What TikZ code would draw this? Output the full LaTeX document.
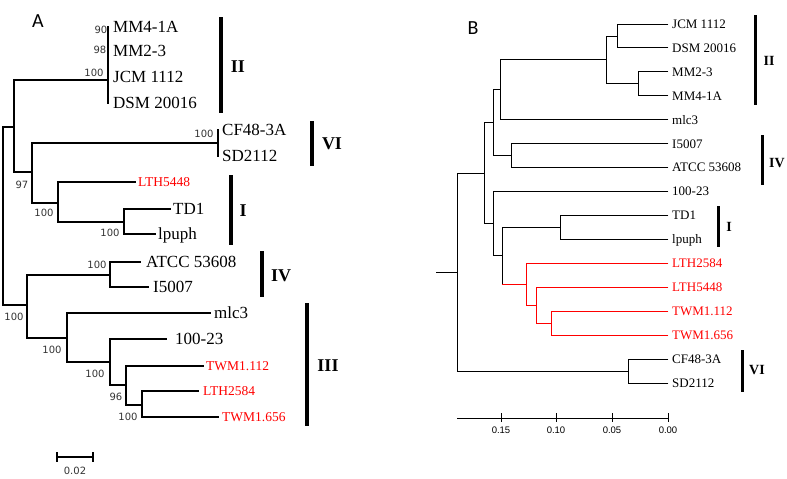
\documentclass[tikz,border=0pt]{standalone}
\usepackage{fontspec}
\setmainfont{Liberation Serif}
\newfontfamily\djv{DejaVu Sans}
\newfontfamily\lsans{Liberation Sans}
\newfontfamily\carl{Carlito}
\newcommand\tbr[4]{\draw[#1] (#2|-#3) -- (#3) (#2|-#4) -- (#4) (#2|-#3) -- (#2|-#4);}
\begin{document}
\begin{tikzpicture}[x=1pt,y=-1pt,
  tr/.style={line width=1.3pt,line cap=rect},
  trb/.style={line width=0.95pt,line cap=rect},
  clA/.style={line width=3.5pt},
  clB/.style={line width=3pt},
  lblA/.style={anchor=west,inner sep=0pt,font=\fontsize{17}{17}\selectfont,text height=11.3pt,text depth=0pt},
  rlblA/.style={anchor=west,inner sep=0pt,font=\fontsize{13.5}{13.5}\selectfont,text height=9pt,text depth=0pt,text=red},
  lblB/.style={anchor=west,inner sep=0pt,font=\fontsize{13}{13}\selectfont,text height=8.6pt,text depth=0pt},
  rlblB/.style={lblB,text=red},
  bs/.style={inner sep=0pt,font=\djv\fontsize{10}{10}\selectfont,text height=7.3pt,text depth=0pt,text=black!80},
  cladeA/.style={inner sep=0pt,font=\bfseries\fontsize{18}{18}\selectfont,text height=12pt,text depth=0pt},
  cladeB/.style={inner sep=0pt,font=\bfseries\fontsize{14}{14}\selectfont,text height=9.3pt,text depth=0pt},
  panel/.style={inner sep=0pt,font=\carl\fontsize{20}{20}\selectfont,text height=13pt,text depth=0pt},
  axl/.style={inner sep=0pt,font=\lsans\fontsize{9.5}{9.5}\selectfont,text height=6.8pt,text depth=0pt}]
\useasboundingbox (0,0) rectangle (787,479);
% ================= Panel A =================
\node[panel] (pA) at (38,21) {A};
% leaves
\coordinate (tMM4) at (108,27);  \node[lblA] (MM4) at (113,27) {MM4-1A};
\coordinate (tMM2) at (108,51);  \node[lblA] (MM2) at (113,51) {MM2-3};
\coordinate (tJCM) at (108,77);  \node[lblA] (JCM) at (113,77) {JCM 1112};
\coordinate (tDSM) at (108,103); \node[lblA] (DSM) at (113,103) {DSM 20016};
\coordinate (tCF) at (218,130);  \node[lblA] (CF) at (222,130) {CF48-3A};
\coordinate (tSD) at (218,156);  \node[lblA] (SD) at (222,156) {SD2112};
\coordinate (tL5448) at (135,182); \node[rlblA] (L5448) at (138,182) {LTH5448};
\coordinate (tTD) at (170,209);  \node[lblA] (TD) at (173,209) {TD1};
\coordinate (tlp) at (155,234);  \node[lblA] (lp) at (158,234) {lpuph};
\coordinate (tATCC) at (140,262); \node[lblA] (ATCC) at (146,262) {ATCC 53608};
\coordinate (tI5007) at (148,287); \node[lblA] (I5007) at (153,287) {I5007};
\coordinate (tmlc) at (210,313); \node[lblA] (mlc) at (214,313) {mlc3};
\coordinate (t10023) at (166,339); \node[lblA] (n10023) at (175,339) {100-23};
\coordinate (tT112) at (203,366); \node[rlblA] (T112) at (206,366) {TWM1.112};
\coordinate (tL2584) at (198,391); \node[rlblA] (L2584) at (203,391) {LTH2584};
\coordinate (tT656) at (218,417); \node[rlblA] (T656) at (222,417) {TWM1.656};
% internal nodes
\coordinate (aII) at (108,80);
\coordinate (aVI) at (218,143);
\coordinate (aTD) at (124,222);
\coordinate (aI) at (58,203);
\coordinate (aVII) at (32,172);
\coordinate (a14) at (14,127);
\coordinate (aL) at (142,405);
\coordinate (aT) at (126,385);
\coordinate (a10) at (110,362);
\coordinate (aIII) at (67,338);
\coordinate (aIV) at (110,275);
\coordinate (aIVIII) at (27,305);
\coordinate (aRoot) at (3,216);
% branches
\draw[tr] (tMM4) -- (tDSM);
\draw[tr] (tCF) -- (tSD);
\tbr{tr}{aTD}{tTD}{tlp}
\tbr{tr}{aI}{tL5448}{aTD}
\tbr{tr}{aVII}{aVI}{aI}
\tbr{tr}{a14}{aII}{aVII}
\tbr{tr}{aL}{tL2584}{tT656}
\tbr{tr}{aT}{tT112}{aL}
\tbr{tr}{a10}{t10023}{aT}
\tbr{tr}{aIII}{tmlc}{a10}
\tbr{tr}{aIV}{tATCC}{tI5007}
\tbr{tr}{aIVIII}{aIV}{aIII}
\tbr{tr}{aRoot}{a14}{aIVIII}
% bootstrap values
\node[bs] (b1) at (101,30) {90};
\node[bs] (b2) at (100,50) {98};
\node[bs] (b3) at (94,73) {100};
\node[bs] (b4) at (204,134) {100};
\node[bs] (b5) at (22,185) {97};
\node[bs] (b6) at (44,213) {100};
\node[bs] (b7) at (110,233) {100};
\node[bs] (b8) at (97,265) {100};
\node[bs] (b9) at (14,317) {100};
\node[bs] (b10) at (52,350) {100};
\node[bs] (b11) at (95,374) {100};
\node[bs] (b12) at (116,397) {96};
\node[bs] (b13) at (128,417) {100};
% clade bars
\draw[clA] (221,17) -- (221,113);  \node[cladeA] (cII) at (238,66) {II};
\draw[clA] (312,121) -- (312,166); \node[cladeA] (cVI) at (332,143) {VI};
\draw[clA] (231,175) -- (231,245); \node[cladeA] (cI) at (243,210) {I};
\draw[clA] (262,251) -- (262,297); \node[cladeA] (cIV) at (281,275) {IV};
\draw[clA] (307,303) -- (307,426); \node[cladeA] (cIII) at (328,365) {III};
% scale bar
\coordinate (s1) at (57,457); \coordinate (s2) at (93,457);
\draw[line width=1.2pt] (s1) -- (s2) (57,452) -- (57,462) (93,452) -- (93,462);
\node[bs] (sl) at (75,471) {0.02};
% ================= Panel B =================
\node[panel] (pB) at (473,28) {B};
\coordinate (uJCM) at (668,24.0);   \node[lblB] (BJCM) at (672,24.0) {JCM 1112};
\coordinate (uDSM) at (668,47.9);   \node[lblB] (BDSM) at (672,47.9) {DSM 20016};
\coordinate (uMM2) at (668,71.9);   \node[lblB] (BMM2) at (672,71.9) {MM2-3};
\coordinate (uMM4) at (668,95.8);   \node[lblB] (BMM4) at (672,95.8) {MM4-1A};
\coordinate (umlc) at (668,119.7);  \node[lblB] (Bmlc) at (672,119.7) {mlc3};
\coordinate (uI5007) at (668,143.7);\node[lblB] (BI5007) at (672,143.7) {I5007};
\coordinate (uATCC) at (668,167.6); \node[lblB] (BATCC) at (672,167.6) {ATCC 53608};
\coordinate (u10023) at (668,191.5);\node[lblB] (B10023) at (672,191.5) {100-23};
\coordinate (uTD) at (668,215.4);   \node[lblB] (BTD) at (672,215.4) {TD1};
\coordinate (ulp) at (668,239.4);   \node[lblB] (Blp) at (672,239.4) {lpuph};
\coordinate (uL2584) at (668,263.3);\node[rlblB] (BL2584) at (672,263.3) {LTH2584};
\coordinate (uL5448) at (668,287.2);\node[rlblB] (BL5448) at (672,287.2) {LTH5448};
\coordinate (uT112) at (668,311.2); \node[rlblB] (BT112) at (672,311.2) {TWM1.112};
\coordinate (uT656) at (668,335.1); \node[rlblB] (BT656) at (672,335.1) {TWM1.656};
\coordinate (uCF) at (668,359.0);   \node[lblB] (BCF) at (672,359.0) {CF48-3A};
\coordinate (uSD) at (668,383.0);   \node[lblB] (BSD) at (672,383.0) {SD2112};
% internal
\coordinate (bJD) at (617,36.0);
\coordinate (bMM) at (638,83.9);
\coordinate (bII) at (606,59.9);
\coordinate (bIIm) at (500,89.8);
\coordinate (bIV) at (511,155.6);
\coordinate (bA) at (493,122.7);
\coordinate (bTD) at (560,227.4);
\coordinate (bR1) at (551,323.1);
\coordinate (bR2) at (536,305.2);
\coordinate (bR3) at (526,284.3);
\coordinate (bD) at (502,255.8);
\coordinate (bC) at (493,223.7);
\coordinate (bB) at (484,173.2);
\coordinate (bVI) at (628,371.0);
\coordinate (bRoot) at (457,272.1);
\coordinate (bStub) at (436,272.1);
\tbr{trb}{bJD}{uJCM}{uDSM}
\tbr{trb}{bMM}{uMM2}{uMM4}
\tbr{trb}{bII}{bJD}{bMM}
\tbr{trb}{bIIm}{bII}{umlc}
\tbr{trb}{bIV}{uI5007}{uATCC}
\tbr{trb}{bA}{bIIm}{bIV}
\tbr{trb}{bTD}{uTD}{ulp}
\tbr{trb,red}{bR1}{uT112}{uT656}
\tbr{trb,red}{bR2}{uL5448}{bR1}
\tbr{trb,red}{bR3}{uL2584}{bR2}
\draw[trb] (bD|-bTD) -- (bTD) (bD|-bTD) -- (bD|-bR3);
\draw[trb,red] (bD|-bR3) -- (bR3);
\tbr{trb}{bC}{u10023}{bD}
\tbr{trb}{bB}{bA}{bC}
\tbr{trb}{bVI}{uCF}{uSD}
\tbr{trb}{bRoot}{bB}{bVI}
\draw[trb] (bStub) -- (bRoot);
% clade bars
\draw[clB] (755,15) -- (755,105);  \node[cladeB] (dII) at (769,61) {II};
\draw[clB] (762,135) -- (762,185); \node[cladeB] (dIV) at (777,163) {IV};
\draw[clB] (718,206) -- (718,247); \node[cladeB] (dI) at (729,227) {I};
\draw[clB] (742,350) -- (742,392); \node[cladeB] (dVI) at (757,370) {VI};
% axis
\coordinate (x0) at (457,418); \coordinate (x1) at (668,418);
\draw[line width=0.9pt] (x0) -- (x1);
\foreach \xx/\tt/\nm in {501/0.15/k1,556/0.10/k2,612/0.05/k3,668/0.00/k4}{
  \draw[line width=0.9pt] (\xx,413) -- (\xx,422);
  \node[axl] (\nm) at (\xx,430) {\tt};
}
\end{tikzpicture}
\end{document}
